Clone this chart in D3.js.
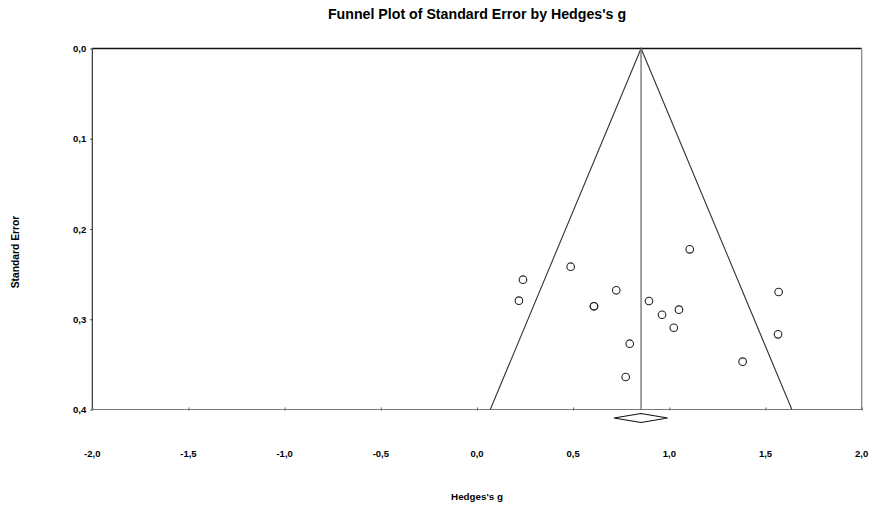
<!DOCTYPE html>
<html><head><meta charset="utf-8">
<script src="https://cdn.jsdelivr.net/npm/d3@7"></script>
<style>body{margin:0;background:#fff}svg{display:block}text{font-family:"Liberation Sans",Arial,sans-serif;font-weight:bold;fill:#000}</style>
</head><body><div id="chart"></div>
<script>
// Study effects (Hedges's g) and standard errors
const hedgesG = [1.106, 0.487, 0.239, 0.218, 0.724, 0.608, 0.608, 0.894, 0.962, 1.050, 1.023, 0.794, 0.773, 1.568, 1.565, 1.381];
const stdErr  = [0.2225, 0.2418, 0.2562, 0.2794, 0.2679, 0.2856, 0.2856, 0.2798, 0.2950, 0.2894, 0.3094, 0.3271, 0.3640, 0.2698, 0.3167, 0.3470];
const summaryEffect = [0.853];
const summaryCI = [0.712, 0.991];
const xTicks = [-2.0, -1.5, -1.0, -0.5, 0.0, 0.5, 1.0, 1.5, 2.0];
const yTicks = [0.0, 0.1, 0.2, 0.3, 0.4];
const titleText = "Funnel Plot of Standard Error by Hedges's g";
const xLabel = "Hedges's g";
const yLabel = "Standard Error";

const W = 869, H = 506;
const m = {left: 92.3, right: W - 861.7, top: 48.5, bottom: H - 409.5};
const svg = d3.select("#chart").append("svg").attr("width", W).attr("height", H);
const x = d3.scaleLinear().domain([-2, 2]).range([m.left, W - m.right]);
const y = d3.scaleLinear().domain([0, 0.4]).range([m.top, H - m.bottom]);
const fmt = d => d3.format(".1f")(d).replace(".", ",").replace("−", "-");

// title
svg.append("text").attr("x", 477).attr("y", 18.5).attr("text-anchor", "middle")
  .style("font-size", "14.2px").text(titleText);

// frame: top and left black, right gray
svg.append("line").attr("x1", x(-2)).attr("x2", x(2)).attr("y1", y(0)).attr("y2", y(0)).attr("stroke", "#111").attr("stroke-width", 1.3);
svg.append("line").attr("x1", x(-2)).attr("x2", x(-2)).attr("y1", y(0)).attr("y2", y(0.4)).attr("stroke", "#222").attr("stroke-width", 1.1);
svg.append("line").attr("x1", x(2)).attr("x2", x(2)).attr("y1", y(0)).attr("y2", y(0.4)).attr("stroke", "#888").attr("stroke-width", 1.3);

// y axis ticks and labels
const yAxis = d3.axisLeft(y).tickValues(yTicks).tickFormat(fmt).tickSize(2).tickPadding(4);
const gy = svg.append("g").attr("transform", `translate(${x(-2)},0)`).call(yAxis);
gy.select(".domain").remove();
gy.selectAll(".tick line").attr("stroke", "#333");
gy.selectAll(".tick text").style("font-size", "9.5px").style("font-family", "'Liberation Sans',Arial,sans-serif").style("font-weight", "bold");

// x axis (bottom) line with ticks
const xAxis = d3.axisTop(x).tickValues(xTicks).tickFormat("").tickSize(3).tickSizeOuter(0);
const gx = svg.append("g").attr("transform", `translate(0,${y(0.4) + 1})`).call(xAxis);
gx.select(".domain").remove();
gx.selectAll(".tick line").attr("stroke", "#555");
svg.append("line").attr("x1", x(-2)).attr("x2", x(2)).attr("y1", y(0.4)).attr("y2", y(0.4)).attr("stroke", "#777").attr("stroke-width", 1.2);

// x tick labels
svg.append("g").selectAll("text").data(xTicks).join("text")
  .attr("x", d => x(d)).attr("y", 457).attr("text-anchor", "middle")
  .style("font-size", "9.5px").text(fmt);

// axis titles
svg.append("text").attr("x", 477).attr("y", 499.5).attr("text-anchor", "middle").style("font-size", "9.8px").text(xLabel);
svg.append("text").attr("transform", "translate(19,252) rotate(-90)").attr("text-anchor", "middle").style("font-size", "10.3px").text(yLabel);

// funnel
const mean = summaryEffect[0];
const seMax = 0.4;
const funnel = [[mean - 1.96 * seMax, seMax], [mean, 0], [mean + 1.96 * seMax, seMax]];
svg.append("path").attr("d", d3.line().x(d => x(d[0])).y(d => y(d[1]))(funnel))
  .attr("fill", "none").attr("stroke", "#333").attr("stroke-width", 1.1);
// mean line
svg.append("line").attr("x1", x(mean)).attr("x2", x(mean)).attr("y1", y(0)).attr("y2", y(0.4))
  .attr("stroke", "#777").attr("stroke-width", 1.4);

// points
const pts = hedgesG.map((g, i) => ({g, se: stdErr[i]}));
svg.append("g").selectAll("circle").data(pts).join("circle")
  .attr("cx", d => x(d.g)).attr("cy", d => y(d.se)).attr("r", 3.8)
  .attr("fill", "none").attr("stroke", "#222").attr("stroke-width", 1.1);

// summary diamond
const dy = y(0.4) + 8.5;
const diamond = [[summaryCI[0], 0], [mean, -4.5], [summaryCI[1], 0], [mean, 4.5]];
svg.append("path").attr("d", d3.line().x(d => x(d[0])).y(d => dy + d[1]).curve(d3.curveLinearClosed)(diamond))
  .attr("fill", "#fff").attr("stroke", "#111").attr("stroke-width", 1.2);
</script></body></html>
